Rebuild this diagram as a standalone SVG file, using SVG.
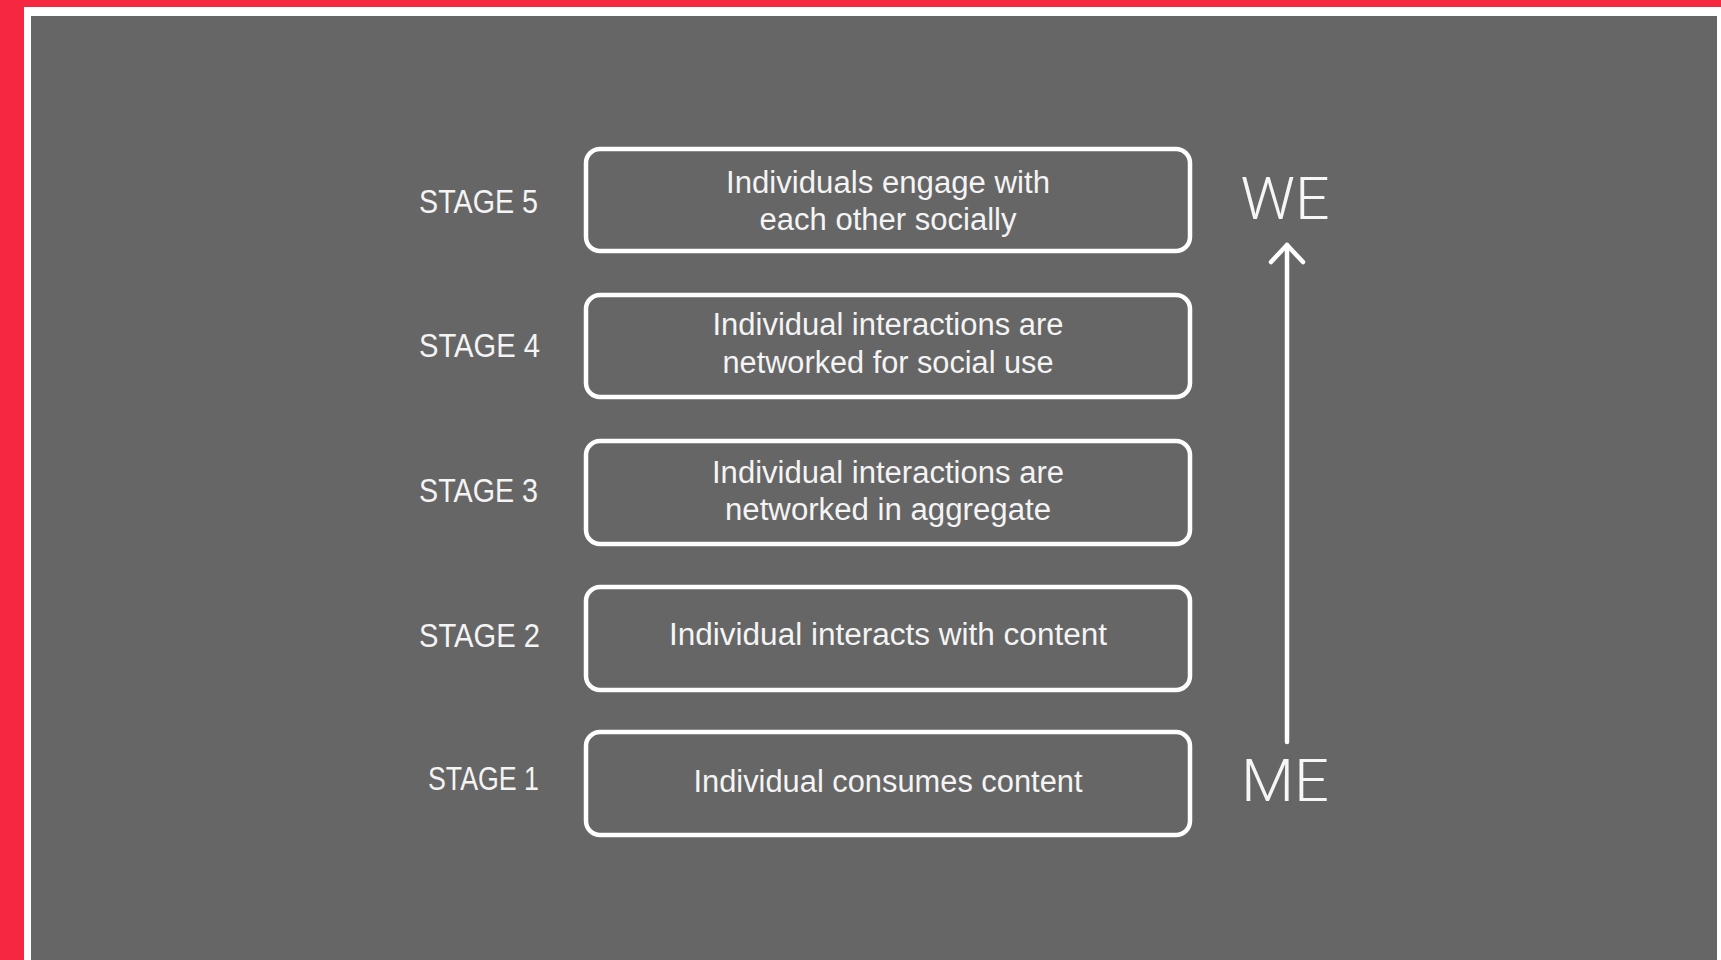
<svg xmlns="http://www.w3.org/2000/svg" width="1721" height="960" viewBox="0 0 1721 960">
  <defs>
    <style>
      .box { fill: none; stroke: #ffffff; stroke-width: 4.5; }
      .lbl { font-family: "Liberation Sans", Arial, sans-serif; font-size: 34px; fill: #f4f4f4; text-anchor: end; }
      .txt { font-family: "Liberation Sans", Arial, sans-serif; font-size: 31px; fill: #f4f4f4; text-anchor: middle; }
      .big { font-family: Roboto, "Liberation Sans", sans-serif; font-weight: 300; font-size: 60px; fill: #f6f6f6; text-anchor: middle; }
      .conn { fill: none; stroke: #ffffff; stroke-width: 4.5; stroke-linecap: round; stroke-linejoin: round; }
    </style>
  </defs>

  <!-- background frame -->
  <rect x="0" y="0" width="1721" height="960" fill="#f62840"/>
  <rect x="24" y="7" width="1697" height="953" fill="#ffffff"/>
  <rect x="31" y="16" width="1686" height="944" fill="#666666"/>

  <g id="stage5">
    <text class="lbl" x="538" y="213" textLength="119" lengthAdjust="spacingAndGlyphs">STAGE 5</text>
    <rect class="box" x="586" y="149" width="604" height="102" rx="14"/>
    <text class="txt" x="888" y="193" textLength="324" lengthAdjust="spacingAndGlyphs">Individuals engage with</text>
    <text class="txt" x="888" y="230" textLength="257" lengthAdjust="spacingAndGlyphs">each other socially</text>
  </g>

  <g id="stage4">
    <text class="lbl" x="540" y="357" textLength="121" lengthAdjust="spacingAndGlyphs">STAGE 4</text>
    <rect class="box" x="586" y="295" width="604" height="102" rx="14"/>
    <text class="txt" x="888" y="335" textLength="351" lengthAdjust="spacingAndGlyphs">Individual interactions are</text>
    <text class="txt" x="888" y="373" textLength="331" lengthAdjust="spacingAndGlyphs">networked for social use</text>
  </g>

  <g id="stage3">
    <text class="lbl" x="538" y="502" textLength="119" lengthAdjust="spacingAndGlyphs">STAGE 3</text>
    <rect class="box" x="586" y="441" width="604" height="103" rx="14"/>
    <text class="txt" x="888" y="483" textLength="352" lengthAdjust="spacingAndGlyphs">Individual interactions are</text>
    <text class="txt" x="888" y="520" textLength="326" lengthAdjust="spacingAndGlyphs">networked in aggregate</text>
  </g>

  <g id="stage2">
    <text class="lbl" x="540" y="647" textLength="121" lengthAdjust="spacingAndGlyphs">STAGE 2</text>
    <rect class="box" x="586" y="587" width="604" height="103" rx="14"/>
    <text class="txt" x="888" y="645" textLength="438" lengthAdjust="spacingAndGlyphs">Individual interacts with content</text>
  </g>

  <g id="stage1">
    <text class="lbl" x="539" y="790" textLength="111" lengthAdjust="spacingAndGlyphs">STAGE 1</text>
    <rect class="box" x="586" y="732" width="604" height="103" rx="14"/>
    <text class="txt" x="888" y="792" textLength="389" lengthAdjust="spacingAndGlyphs">Individual consumes content</text>
  </g>

  <g id="we">
    <text class="big" x="1285" y="219" textLength="89" lengthAdjust="spacingAndGlyphs">WE</text>
  </g>
  <g id="me">
    <text class="big" x="1285" y="801" textLength="88" lengthAdjust="spacingAndGlyphs">ME</text>
  </g>

  <g id="connectors">
    <line class="conn" x1="1287" y1="742" x2="1287" y2="245"/>
    <polyline class="conn" points="1271,262 1287,245 1303,262"/>
  </g>
</svg>
